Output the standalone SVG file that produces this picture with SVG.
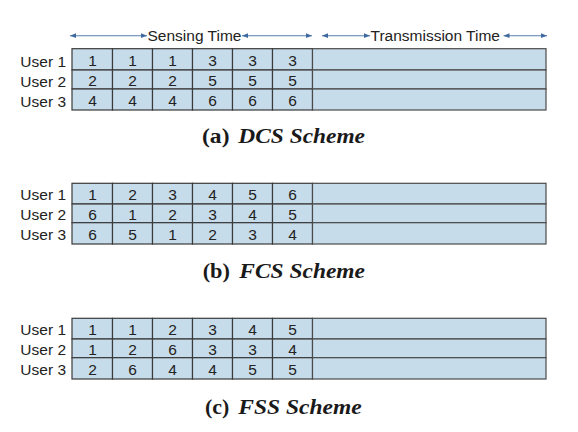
<svg xmlns="http://www.w3.org/2000/svg" width="578" height="432" viewBox="0 0 578 432">
<defs>
<marker id="ah" viewBox="0 0 6 6" refX="6" refY="3" markerWidth="6" markerHeight="6" markerUnits="userSpaceOnUse" orient="auto-start-reverse">
<path d="M0,0.6 L6,3 L0,5.4 Z" fill="#3f6aa0"/>
</marker>
</defs>
<style>
.cell{fill:#c7dcea;stroke:#3a3a3a;stroke-width:1.2}
.tx{fill:#c7dcea;stroke:#4a4a4a;stroke-width:1.2}
.lbl{font-family:"Liberation Sans",Arial,sans-serif;font-size:15.5px;fill:#222}
.num{font-family:"Liberation Sans",Arial,sans-serif;font-size:15.5px;fill:#222;text-anchor:middle}
.ul{font-family:"Liberation Sans",Arial,sans-serif;font-size:15.5px;fill:#222;text-anchor:end}
.cap{font-family:"Liberation Serif","Times New Roman",serif;font-size:20px;font-weight:bold;fill:#1a1a1a}
.capi{font-style:italic}
.arr{stroke:#5a7fab;stroke-width:1.1;fill:none;marker-start:url(#ah);marker-end:url(#ah)}
</style>
<rect width="578" height="432" fill="#ffffff"/>

<g id="connectors">
<line class="arr" x1="70" y1="35.7" x2="147" y2="35.7"/>
<line class="arr" x1="242" y1="35.7" x2="312" y2="35.7"/>
<line class="arr" x1="322" y1="35.7" x2="370" y2="35.7"/>
<line class="arr" x1="503.5" y1="35.7" x2="547" y2="35.7"/>
</g>
<g id="time-labels">
<text class="lbl" x="147.5" y="40.5">Sensing Time</text>
<text class="lbl" x="370.5" y="40.5">Transmission Time</text>
</g>

<!-- (a) DCS -->
<g id="table-a">
<g class="grid">
<rect class="cell" x="72" y="48.7" width="40.5" height="21.3"/><rect class="cell" x="112.5" y="48.7" width="40" height="21.3"/><rect class="cell" x="152.5" y="48.7" width="40" height="21.3"/><rect class="cell" x="192.5" y="48.7" width="40" height="21.3"/><rect class="cell" x="232.5" y="48.7" width="40" height="21.3"/><rect class="cell" x="272.5" y="48.7" width="40" height="21.3"/>
<rect class="cell" x="72" y="70" width="40.5" height="19"/><rect class="cell" x="112.5" y="70" width="40" height="19"/><rect class="cell" x="152.5" y="70" width="40" height="19"/><rect class="cell" x="192.5" y="70" width="40" height="19"/><rect class="cell" x="232.5" y="70" width="40" height="19"/><rect class="cell" x="272.5" y="70" width="40" height="19"/>
<rect class="cell" x="72" y="89" width="40.5" height="21"/><rect class="cell" x="112.5" y="89" width="40" height="21"/><rect class="cell" x="152.5" y="89" width="40" height="21"/><rect class="cell" x="192.5" y="89" width="40" height="21"/><rect class="cell" x="232.5" y="89" width="40" height="21"/><rect class="cell" x="272.5" y="89" width="40" height="21"/>
<rect class="tx" x="312.5" y="48.7" width="233.5" height="21.3"/><rect class="tx" x="312.5" y="70" width="233.5" height="19"/><rect class="tx" x="312.5" y="89" width="233.5" height="21"/>
</g>
<text class="ul" x="66" y="66.5">User 1</text><text class="ul" x="66" y="86.5">User 2</text><text class="ul" x="66" y="106.5">User 3</text>
<text class="num" x="92.5" y="65.5">1</text><text class="num" x="132.5" y="65.5">1</text><text class="num" x="172.5" y="65.5">1</text><text class="num" x="212.5" y="65.5">3</text><text class="num" x="252.5" y="65.5">3</text><text class="num" x="292.5" y="65.5">3</text>
<text class="num" x="92.5" y="85.5">2</text><text class="num" x="132.5" y="85.5">2</text><text class="num" x="172.5" y="85.5">2</text><text class="num" x="212.5" y="85.5">5</text><text class="num" x="252.5" y="85.5">5</text><text class="num" x="292.5" y="85.5">5</text>
<text class="num" x="92.5" y="105.5">4</text><text class="num" x="132.5" y="105.5">4</text><text class="num" x="172.5" y="105.5">4</text><text class="num" x="212.5" y="105.5">6</text><text class="num" x="252.5" y="105.5">6</text><text class="num" x="292.5" y="105.5">6</text>
<text class="cap" y="143.3"><tspan x="202" textLength="27.5" lengthAdjust="spacingAndGlyphs">(a)</tspan><tspan class="capi" x="238.3" textLength="126.7" lengthAdjust="spacingAndGlyphs">DCS Scheme</tspan></text>
</g>

<!-- (b) FCS -->
<g id="table-b">
<g class="grid">
<rect class="cell" x="72" y="183.3" width="40.5" height="20.7"/><rect class="cell" x="112.5" y="183.3" width="40" height="20.7"/><rect class="cell" x="152.5" y="183.3" width="40" height="20.7"/><rect class="cell" x="192.5" y="183.3" width="40" height="20.7"/><rect class="cell" x="232.5" y="183.3" width="40" height="20.7"/><rect class="cell" x="272.5" y="183.3" width="40" height="20.7"/>
<rect class="cell" x="72" y="204" width="40.5" height="18.7"/><rect class="cell" x="112.5" y="204" width="40" height="18.7"/><rect class="cell" x="152.5" y="204" width="40" height="18.7"/><rect class="cell" x="192.5" y="204" width="40" height="18.7"/><rect class="cell" x="232.5" y="204" width="40" height="18.7"/><rect class="cell" x="272.5" y="204" width="40" height="18.7"/>
<rect class="cell" x="72" y="222.7" width="40.5" height="21.3"/><rect class="cell" x="112.5" y="222.7" width="40" height="21.3"/><rect class="cell" x="152.5" y="222.7" width="40" height="21.3"/><rect class="cell" x="192.5" y="222.7" width="40" height="21.3"/><rect class="cell" x="232.5" y="222.7" width="40" height="21.3"/><rect class="cell" x="272.5" y="222.7" width="40" height="21.3"/>
<rect class="tx" x="312.5" y="183.3" width="233.5" height="20.7"/><rect class="tx" x="312.5" y="204" width="233.5" height="18.7"/><rect class="tx" x="312.5" y="222.7" width="233.5" height="21.3"/>
</g>
<text class="ul" x="66" y="200.3">User 1</text><text class="ul" x="66" y="220.3">User 2</text><text class="ul" x="66" y="240.3">User 3</text>
<text class="num" x="92.5" y="199.5">1</text><text class="num" x="132.5" y="199.5">2</text><text class="num" x="172.5" y="199.5">3</text><text class="num" x="212.5" y="199.5">4</text><text class="num" x="252.5" y="199.5">5</text><text class="num" x="292.5" y="199.5">6</text>
<text class="num" x="92.5" y="219.5">6</text><text class="num" x="132.5" y="219.5">1</text><text class="num" x="172.5" y="219.5">2</text><text class="num" x="212.5" y="219.5">3</text><text class="num" x="252.5" y="219.5">4</text><text class="num" x="292.5" y="219.5">5</text>
<text class="num" x="92.5" y="239.5">6</text><text class="num" x="132.5" y="239.5">5</text><text class="num" x="172.5" y="239.5">1</text><text class="num" x="212.5" y="239.5">2</text><text class="num" x="252.5" y="239.5">3</text><text class="num" x="292.5" y="239.5">4</text>
<text class="cap" y="278.3"><tspan x="202.7" textLength="27.3" lengthAdjust="spacingAndGlyphs">(b)</tspan><tspan class="capi" x="239.3" textLength="125.7" lengthAdjust="spacingAndGlyphs">FCS Scheme</tspan></text>
</g>

<!-- (c) FSS -->
<g id="table-c">
<g class="grid">
<rect class="cell" x="72" y="318.3" width="40.5" height="20.7"/><rect class="cell" x="112.5" y="318.3" width="40" height="20.7"/><rect class="cell" x="152.5" y="318.3" width="40" height="20.7"/><rect class="cell" x="192.5" y="318.3" width="40" height="20.7"/><rect class="cell" x="232.5" y="318.3" width="40" height="20.7"/><rect class="cell" x="272.5" y="318.3" width="40" height="20.7"/>
<rect class="cell" x="72" y="339" width="40.5" height="18.7"/><rect class="cell" x="112.5" y="339" width="40" height="18.7"/><rect class="cell" x="152.5" y="339" width="40" height="18.7"/><rect class="cell" x="192.5" y="339" width="40" height="18.7"/><rect class="cell" x="232.5" y="339" width="40" height="18.7"/><rect class="cell" x="272.5" y="339" width="40" height="18.7"/>
<rect class="cell" x="72" y="357.7" width="40.5" height="21.3"/><rect class="cell" x="112.5" y="357.7" width="40" height="21.3"/><rect class="cell" x="152.5" y="357.7" width="40" height="21.3"/><rect class="cell" x="192.5" y="357.7" width="40" height="21.3"/><rect class="cell" x="232.5" y="357.7" width="40" height="21.3"/><rect class="cell" x="272.5" y="357.7" width="40" height="21.3"/>
<rect class="tx" x="312.5" y="318.3" width="233.5" height="20.7"/><rect class="tx" x="312.5" y="339" width="233.5" height="18.7"/><rect class="tx" x="312.5" y="357.7" width="233.5" height="21.3"/>
</g>
<text class="ul" x="66" y="335.3">User 1</text><text class="ul" x="66" y="355.3">User 2</text><text class="ul" x="66" y="375.3">User 3</text>
<text class="num" x="92.5" y="334.5">1</text><text class="num" x="132.5" y="334.5">1</text><text class="num" x="172.5" y="334.5">2</text><text class="num" x="212.5" y="334.5">3</text><text class="num" x="252.5" y="334.5">4</text><text class="num" x="292.5" y="334.5">5</text>
<text class="num" x="92.5" y="354.5">1</text><text class="num" x="132.5" y="354.5">2</text><text class="num" x="172.5" y="354.5">6</text><text class="num" x="212.5" y="354.5">3</text><text class="num" x="252.5" y="354.5">3</text><text class="num" x="292.5" y="354.5">4</text>
<text class="num" x="92.5" y="374.5">2</text><text class="num" x="132.5" y="374.5">6</text><text class="num" x="172.5" y="374.5">4</text><text class="num" x="212.5" y="374.5">4</text><text class="num" x="252.5" y="374.5">5</text><text class="num" x="292.5" y="374.5">5</text>
<text class="cap" y="414"><tspan x="205" textLength="24.3" lengthAdjust="spacingAndGlyphs">(c)</tspan><tspan class="capi" x="238.3" textLength="123.4" lengthAdjust="spacingAndGlyphs">FSS Scheme</tspan></text>
</g>
</svg>
